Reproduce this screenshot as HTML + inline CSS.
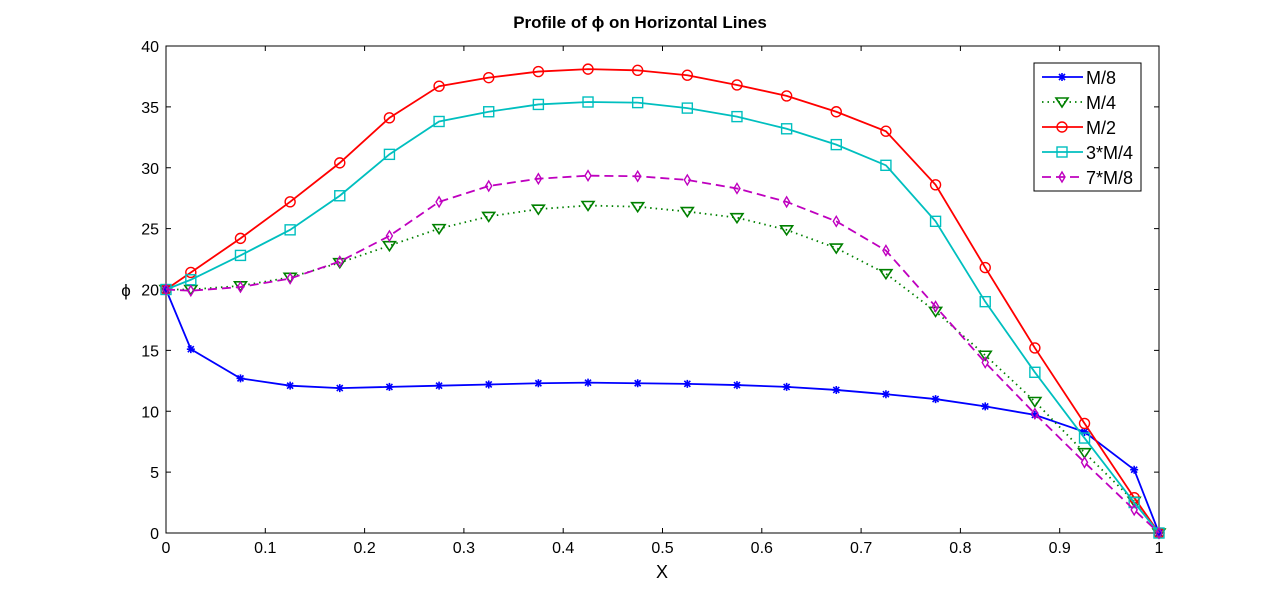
<!DOCTYPE html>
<html><head><meta charset="utf-8"><style>body{margin:0;background:#fff}svg{display:block;font-family:"Liberation Sans",Arial,sans-serif}</style></head>
<body>
<svg id="chart" width="1280" height="600" viewBox="0 0 1280 600">
<rect width="1280" height="600" fill="#fff"/>
<g id="axes"></g><g id="series"></g><g id="legend"></g>
</svg>
<script>
const xs=[0,0.025,0.075,0.125,0.175,0.225,0.275,0.325,0.375,0.425,0.475,0.525,0.575,0.625,0.675,0.725,0.775,0.825,0.875,0.925,0.975,1];
const m8=[20,15.1,12.7,12.1,11.9,12.0,12.1,12.2,12.3,12.35,12.3,12.25,12.15,12.0,11.75,11.4,11.0,10.4,9.7,8.3,5.2,0];
const m4=[20,20,20.3,21.0,22.2,23.6,25.0,26.0,26.6,26.9,26.8,26.4,25.9,24.9,23.4,21.3,18.2,14.6,10.8,6.6,2.6,0];
const m2=[20,21.4,24.2,27.2,30.4,34.1,36.7,37.4,37.9,38.1,38.0,37.6,36.8,35.9,34.6,33.0,28.6,21.8,15.2,9.0,2.9,0];
const m34=[20,20.8,22.8,24.9,27.7,31.1,33.8,34.6,35.2,35.4,35.35,34.9,34.2,33.2,31.9,30.2,25.6,19.0,13.2,7.8,2.5,0];
const m78=[20,19.9,20.2,20.9,22.3,24.4,27.2,28.5,29.1,29.35,29.3,29.0,28.3,27.2,25.6,23.2,18.6,14.0,9.8,5.8,1.9,0];
const xTicks=[0,0.1,0.2,0.3,0.4,0.5,0.6,0.7,0.8,0.9,1];
const xTickLabels=["0","0.1","0.2","0.3","0.4","0.5","0.6","0.7","0.8","0.9","1"];
const yTicks=[0,5,10,15,20,25,30,35,40];
const seriesNames=["M/8","M/4","M/2","3*M/4","7*M/8"];

const NS="http://www.w3.org/2000/svg";
const L=166,R=1159,T=46,B=533;
const X=v=>L+(R-L)*v, Y=v=>B-(B-T)*v/40;
function mk(tag,attrs,parent){const e=document.createElementNS(NS,tag);for(const k in attrs)e.setAttribute(k,attrs[k]);parent.appendChild(e);return e;}
const ax=document.getElementById('axes');
let f=mk('rect',{x:L,y:T,width:R-L,height:B-T,fill:'none',stroke:'#000','stroke-width':1},ax);


xTicks.forEach((v,i)=>{
 mk('line',{x1:X(v),x2:X(v),y1:B,y2:B-5,stroke:'#000'},ax);
 mk('line',{x1:X(v),x2:X(v),y1:T,y2:T+5,stroke:'#000'},ax);
 const t=mk('text',{x:X(v),y:B+20,'text-anchor':'middle','font-size':16},ax);t.textContent=xTickLabels[i];
 
 
});
yTicks.forEach(v=>{
 mk('line',{x1:L,x2:L+5,y1:Y(v),y2:Y(v),stroke:'#000'},ax);
 mk('line',{x1:R,x2:R-5,y1:Y(v),y2:Y(v),stroke:'#000'},ax);
 const t=mk('text',{x:L-7,y:Y(v)+6,'text-anchor':'end','font-size':16},ax);t.textContent=v;
 
 
});
let tt=mk('text',{x:640,y:28,'text-anchor':'middle','font-size':17,'font-weight':'bold'},ax);tt.textContent='Profile of \u03d5 on Horizontal Lines';


let xl=mk('text',{x:662,y:578,'text-anchor':'middle','font-size':18},ax);xl.textContent='X';


let yl=mk('text',{x:126,y:296,'text-anchor':'middle','font-size':17},ax);yl.textContent='\u03d5';



function marker(type,x,y,c,g){
 if(type==='star'){mk('path',{d:`M${x-4} ${y}H${x+4}M${x} ${y-4}V${y+4}M${x-3} ${y-3}L${x+3} ${y+3}M${x-3} ${y+3}L${x+3} ${y-3}`,stroke:c,'stroke-width':1.6,fill:'none'},g);}
 else if(type==='tri'){mk('path',{d:`M${x-6} ${y-4}H${x+6}L${x} ${y+5}Z`,stroke:c,'stroke-width':1.6,fill:'none'},g);}
 else if(type==='circ'){mk('circle',{cx:x,cy:y,r:5,stroke:c,'stroke-width':1.4,fill:'none'},g);}
 else if(type==='sq'){mk('rect',{x:x-5,y:y-5,width:10,height:10,stroke:c,'stroke-width':1.4,fill:'none'},g);}
 else if(type==='dia'){mk('path',{d:`M${x} ${y-5}L${x+3} ${y}L${x} ${y+5}L${x-3} ${y}Z`,stroke:c,'stroke-width':1.4,fill:'none'},g);}
}
const defs=[[m8,'#0000ff','star',''],[m4,'#008000','tri','1.5 4'],[m2,'#ff0000','circ',''],[m34,'#00bfbf','sq',''],[m78,'#bf00bf','dia','9 5']];
const sg=document.getElementById('series');
defs.forEach((d,i)=>{
 const g=mk('g',{},sg);
 
 
 const pts=xs.map((x,j)=>X(x)+','+Y(d[0][j])).join(' ');
 mk('polyline',{points:pts,fill:'none',stroke:d[1],'stroke-width':1.8,'stroke-dasharray':d[3]||'none'},g);
 xs.forEach((x,j)=>marker(d[2],X(x),Y(d[0][j]),d[1],g));
});
const lg=document.getElementById('legend');


mk('rect',{x:1034,y:63,width:107,height:128,fill:'#fff',stroke:'#000'},lg);
defs.forEach((d,i)=>{
 const y=77+i*25;
 const g=mk('g',{},lg);
 
 
 mk('line',{x1:1042,x2:1083,y1:y,y2:y,stroke:d[1],'stroke-width':1.8,'stroke-dasharray':d[3]||'none'},g);
 marker(d[2],1062,y,d[1],g);
 const t=mk('text',{x:1086,y:y+7,'font-size':18},g);t.textContent=seriesNames[i];
});
</script>
</body></html>
